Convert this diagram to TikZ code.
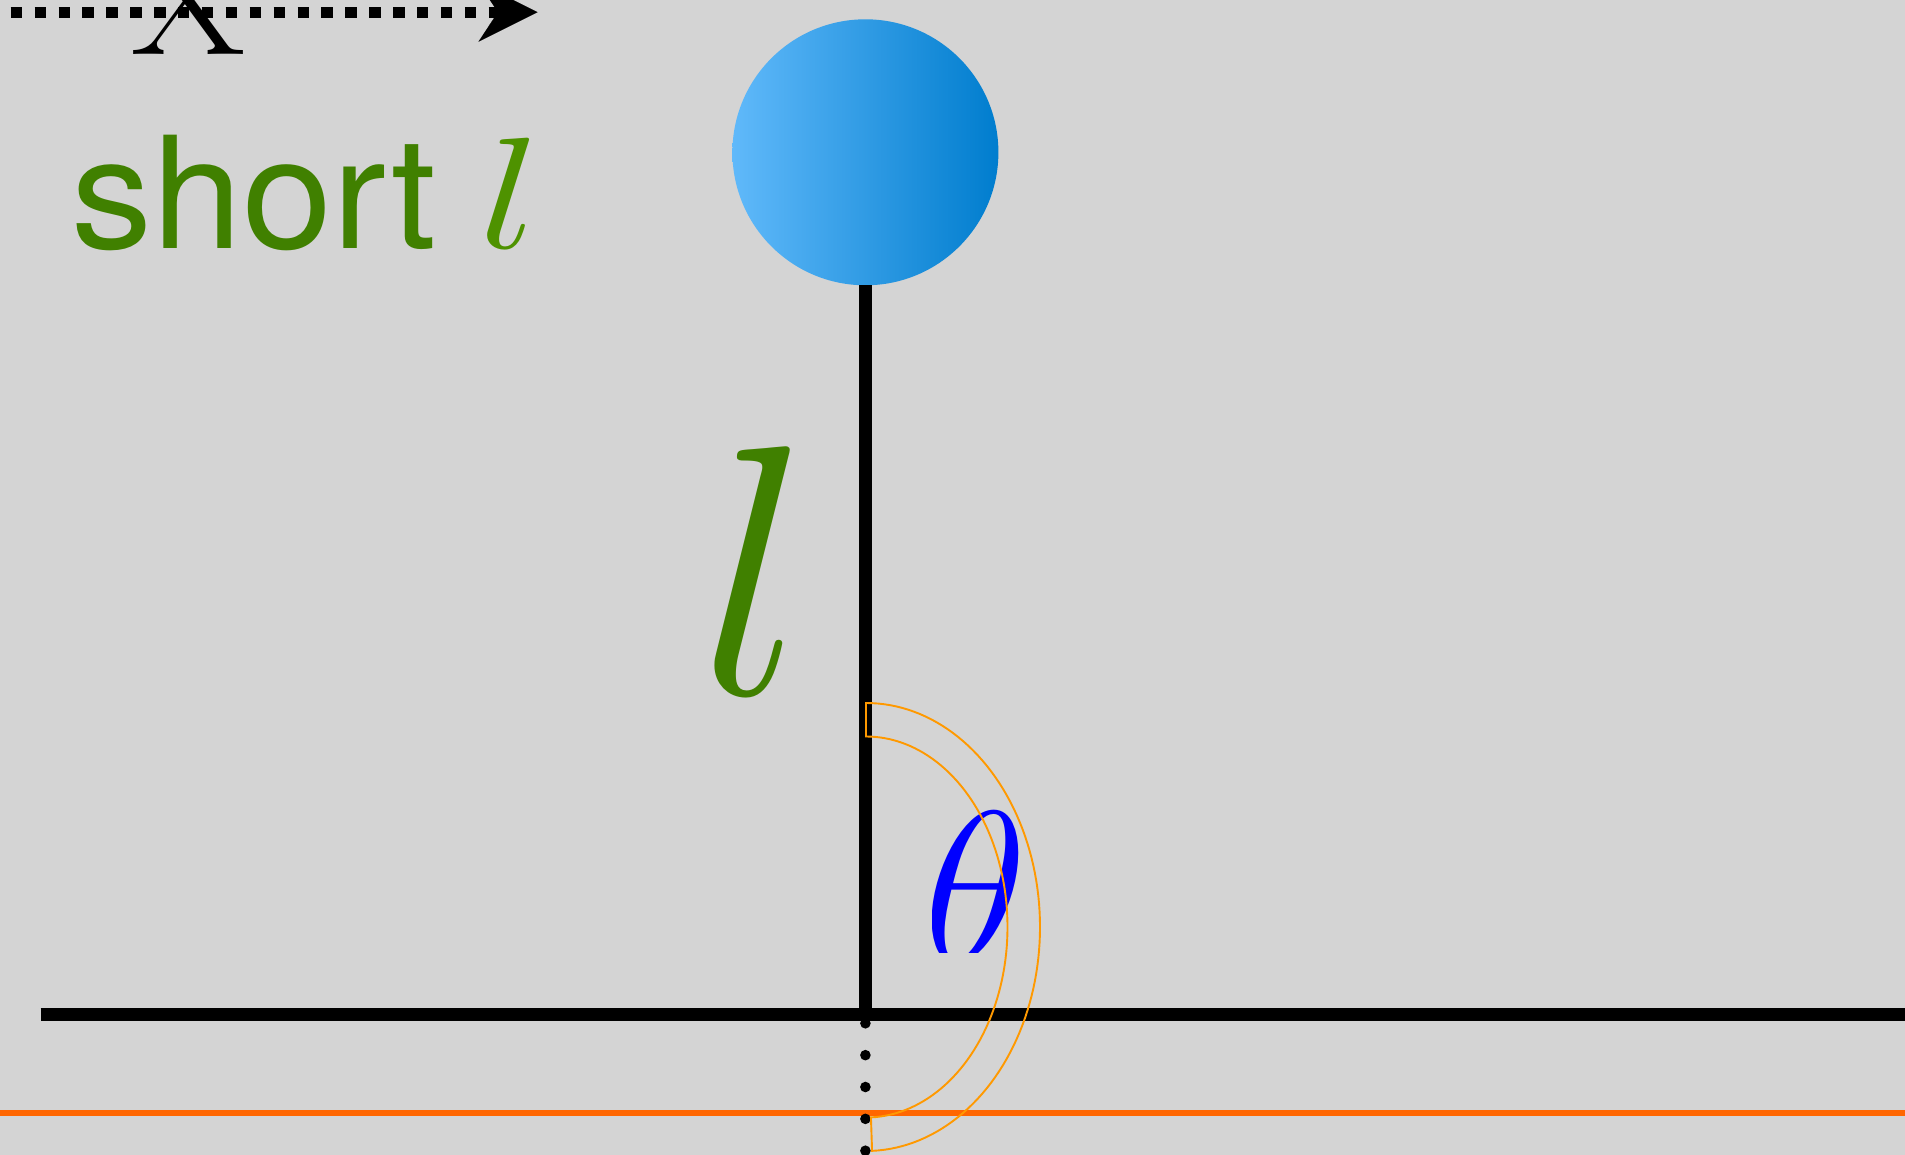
\RequirePackage{fix-cm}
\documentclass[tikz,border=0pt]{standalone}
\usepackage{fontspec}
\newfontfamily\heros{TeX Gyre Heros}
\usetikzlibrary{arrows.meta}
\definecolor{bg}{HTML}{D4D4D4}
\definecolor{lgreen}{HTML}{408000}
\definecolor{lgreenb}{HTML}{4E9200}
\definecolor{bobL}{HTML}{60B9FA}
\definecolor{bobR}{HTML}{007DCE}
\definecolor{redline}{HTML}{FF6600}
\definecolor{arcorange}{HTML}{FF9900}
\tikzset{
  txt/.style={inner sep=0pt, outer sep=0pt, anchor=base west},
  rodline/.style={line width=13pt, black},
  axisline/.style={line width=13.3pt, black},
  dotline/.style={line width=10.6pt, black, line cap=round, dash pattern=on 0pt off 31.85pt},
  xaxisarrow/.style={line width=10.7pt, black, dash pattern=on 11.4pt off 12.5pt,
    -{Stealth[length=59pt, width=59pt, inset=19.4pt, line width=0.01pt]}},
  groundline/.style={line width=5.7pt, redline},
  anglearc/.style={line width=1.9pt, arcorange, line join=miter},
}
\begin{document}
\begin{tikzpicture}[x=1pt, y=-1pt]
\useasboundingbox (0,0) rectangle (1905,1155);
\fill[bg] (0,0) rectangle (1905,1155);
\clip (0,0) rectangle (1905,1155);

% bob and rod
\node[circle, inner sep=0pt, outer sep=0pt, minimum size=266pt] (bob) at (865.4,152.3) {};
\shade[left color=bobL, right color=bobR] (bob.center) circle[radius=133pt];
\coordinate (pivot) at (865.4,1014.3);
\coordinate (axisL) at (40.7,1014.3);
\coordinate (axisR) at (1905,1014.3);
\draw[rodline] (bob.south) -- (pivot);
\draw[axisline] (axisL) -- (axisR);

% X axis arrow
\coordinate (xs) at (10.7,12.2);
\coordinate (xe) at (537.5,12.2);
\draw[xaxisarrow] (xs) -- (xe);
\node[txt, xscale=1.07, font={\fontsize{154pt}{154pt}\selectfont}] (xlbl) at (131,55) {X};

% labels
\node[txt, xscale=1.042, text=lgreen, font={\heros\fontsize{155.5pt}{155.5pt}\selectfont}] (shortlbl) at (71,248.3) {short};
\node[txt, xscale=1.25, text=lgreenb, font={\fontsize{159pt}{159pt}\selectfont}] (shortl) at (478,248.3) {$l$};
\node[txt, text=lgreen, font={\fontsize{357pt}{357pt}\selectfont}] (lenlbl) at (698,694.3) {$l$};

\begin{scope}
\clip (932.7,780) rectangle (1045,952.7);
\node[txt, text=blue, font={\fontsize{215pt}{215pt}\selectfont}] (theta) at (923,961.6) {$\theta$};
\end{scope}

% ground line and dotted continuation
\coordinate (gL) at (0,1112.8);
\coordinate (gR) at (1905,1112.8);
\draw[groundline] (gL) -- (gR);
\coordinate (d0) at (865.4,1023.3);
\coordinate (d1) at (865.4,1170);
\draw[dotline] (d0) -- (d1);

% angle arc (annular sector)
\draw[anglearc] plot[domain=-90:88, samples=90] ({866+174*cos(\x)},{927+224*sin(\x)})
  -- plot[domain=88:-90, samples=90] ({866+141.5*cos(\x)},{927+190.5*sin(\x)}) -- cycle;
\end{tikzpicture}
\end{document}
